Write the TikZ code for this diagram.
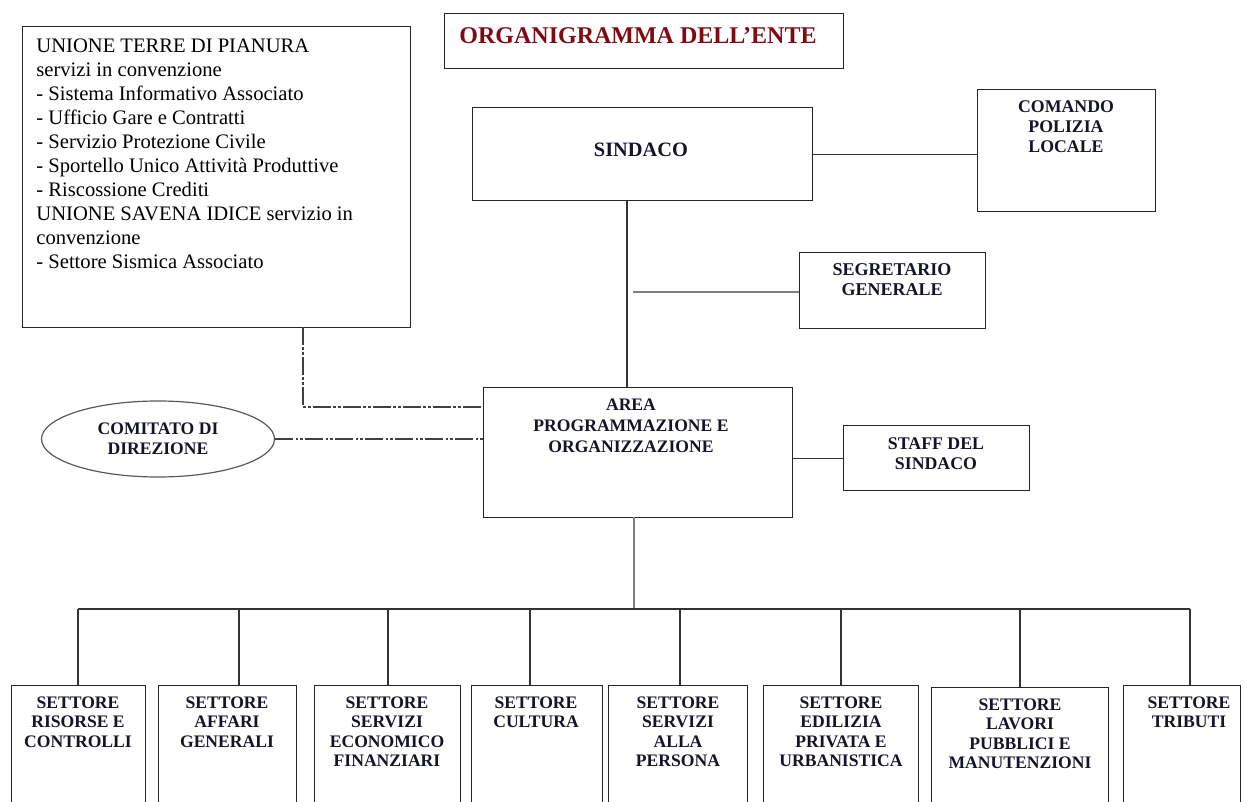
\documentclass[tikz,border=0pt]{standalone}
\usepackage{fontspec}
\setmainfont{Liberation Serif}
\usetikzlibrary{shapes.geometric}
\definecolor{titlered}{RGB}{128,10,20}
\definecolor{inkc}{RGB}{20,20,40}
\tikzset{
  rbox/.style={draw=black!85, line width=0.6pt, inner sep=0pt, anchor=north west},
  lbl/.style={font=\bfseries\fontsize{8.8}{9.8}\selectfont, align=center, inner sep=0pt, anchor=north, text=inkc},
  conn/.style={draw=black!80, line width=0.55pt},
  greyconn/.style={draw=black!50, line width=0.55pt},
  ddot/.style={draw=black!75, line width=0.55pt, dash pattern=on 9pt off 1.2pt on 1.2pt off 1.2pt on 1.2pt off 1.2pt},
}
\newcommand\rbx[5]{\node[rbox, minimum width={(#4-#2)*0.5pt}, minimum height={(#5-#3)*0.5pt}] (#1) at (#2,#3) {};}
\begin{document}
\begin{tikzpicture}[x=0.5pt,y=-0.5pt]
\useasboundingbox (0,0) rectangle (1247,802);
\clip (0,0) rectangle (1247,802);
% boxes
\rbx{unione}{22}{26}{410}{327}
\rbx{title}{444}{13}{843}{68}
\rbx{sindaco}{472}{107}{812}{200}
\rbx{comando}{977}{89}{1155}{211}
\rbx{segr}{799}{252}{985}{328}
\rbx{area}{483}{387}{792}{517}
\rbx{staff}{843}{425}{1029}{490}
\rbx{s1}{11}{685}{145}{812}
\rbx{s2}{158}{685}{296}{812}
\rbx{s3}{314}{685}{460}{812}
\rbx{s4}{471}{685}{602}{812}
\rbx{s5}{608}{685}{747}{812}
\rbx{s6}{763}{685}{918}{812}
\rbx{s7}{931}{687}{1108}{812}
\rbx{s8}{1123}{685}{1240}{812}
\node[ellipse, draw=black!65, line width=0.6pt, inner sep=0pt, minimum width=116.5pt, minimum height=38pt] (comitato) at (158,439) {};
% texts
\node[anchor=north west, inner sep=0pt, align=left, text=black, font=\fontsize{10.3}{12}\selectfont] (unionet) at (36,38) {UNIONE TERRE DI PIANURA\\servizi in convenzione\\- Sistema Informativo Associato\\- Ufficio Gare e Contratti\\- Servizio Protezione Civile\\- Sportello Unico Attività Produttive\\- Riscossione Crediti\\UNIONE SAVENA IDICE servizio in\\convenzione\\- Settore Sismica Associato};
\node[anchor=north, inner sep=0pt, text=titlered, font=\bfseries\fontsize{12}{14}\selectfont] (titlet) at (638,27) {ORGANIGRAMMA DELL’ENTE};
\node[lbl, font=\bfseries\fontsize{10.2}{12}\selectfont] (sindacot) at (641,143) {SINDACO};
\node[lbl, font=\bfseries\fontsize{8.9}{10}\selectfont] (comandot) at (1066,100) {COMANDO\\POLIZIA\\LOCALE};
\node[lbl, font=\bfseries\fontsize{9}{10}\selectfont] (segrt) at (892,263) {SEGRETARIO\\GENERALE};
\node[lbl, font=\bfseries\fontsize{8.9}{10}\selectfont] (stafft) at (936,437) {STAFF DEL\\SINDACO};
\node[lbl, font=\bfseries\fontsize{8.8}{10.5}\selectfont] (areat) at (631,398) {AREA\\PROGRAMMAZIONE E\\ORGANIZZAZIONE};
\node[lbl, font=\bfseries\fontsize{8.8}{10}\selectfont] (comitatot) at (158,422) {COMITATO DI\\DIREZIONE};
\node[lbl] (s1t) at (78,696) {SETTORE\\RISORSE E\\CONTROLLI};
\node[lbl] (s2t) at (227,696) {SETTORE\\AFFARI\\GENERALI};
\node[lbl] (s3t) at (387,696) {SETTORE\\SERVIZI\\ECONOMICO\\FINANZIARI};
\node[lbl] (s4t) at (536,696) {SETTORE\\CULTURA};
\node[lbl] (s5t) at (678,696) {SETTORE\\SERVIZI\\ALLA\\PERSONA};
\node[lbl] (s6t) at (841,696) {SETTORE\\EDILIZIA\\PRIVATA E\\URBANISTICA};
\node[lbl] (s7t) at (1020,698) {SETTORE\\LAVORI\\PUBBLICI E\\MANUTENZIONI};
\node[lbl] (s8t) at (1189,696) {SETTORE\\TRIBUTI};
% connectors
\draw[conn] (sindaco.east) -- (sindaco.east -| comando.west);
\coordinate (v1) at (627,200);
\draw[conn] (v1) -- (v1 |- area.north);
\coordinate (sg) at (633,292);
\draw[greyconn] (sg) -- (sg -| segr.west);
\draw[conn] (staff.west) -- (staff.west -| area.east);
\coordinate (u1) at (303,327);
\coordinate (a1) at (483,407);
\draw[ddot] (u1) |- (a1);
\draw[ddot] (comitato.east) -- (comitato.east -| area.west);
\coordinate (av) at (634,517);
\coordinate (bus) at (634,609);
\draw[greyconn] (av) -- (bus);
\coordinate (j1) at (78,609);
\coordinate (j2) at (239,609);
\coordinate (j3) at (388,609);
\coordinate (j4) at (530,609);
\coordinate (j5) at (680,609);
\coordinate (j6) at (841,609);
\coordinate (j7) at (1020,609);
\coordinate (j8) at (1190,609);
\draw[conn] (j1) -- (j8);
\draw[conn] (j1) -- (j1 |- s1.north);
\draw[conn] (j2) -- (j2 |- s2.north);
\draw[conn] (j3) -- (j3 |- s3.north);
\draw[conn] (j4) -- (j4 |- s4.north);
\draw[conn] (j5) -- (j5 |- s5.north);
\draw[conn] (j6) -- (j6 |- s6.north);
\draw[conn] (j7) -- (j7 |- s7.north);
\draw[conn] (j8) -- (j8 |- s8.north);
\end{tikzpicture}
\end{document}
